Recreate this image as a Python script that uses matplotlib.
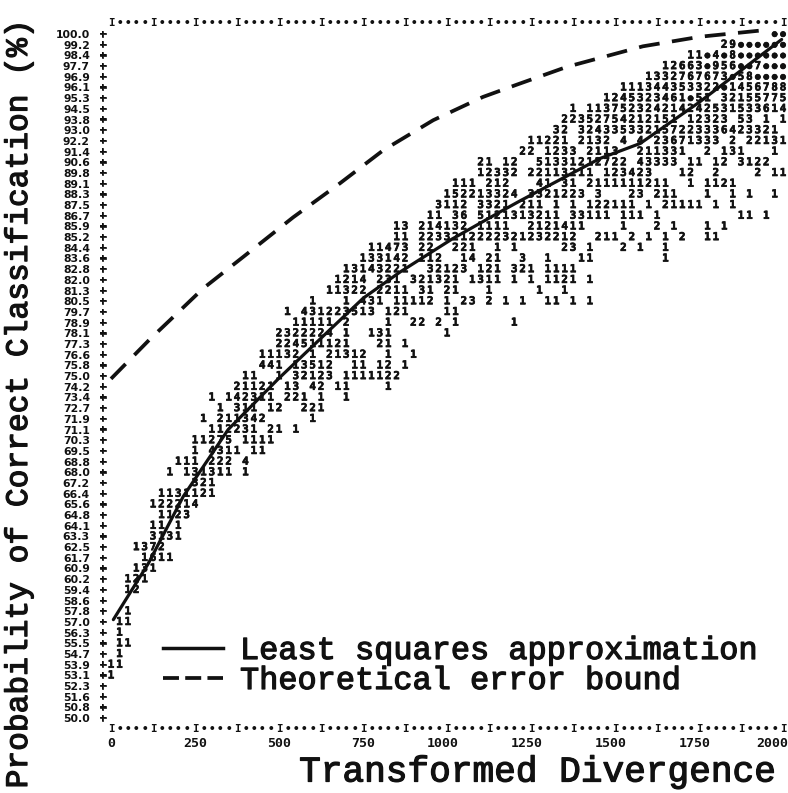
import matplotlib
matplotlib.use("Agg")
import matplotlib.pyplot as plt
import matplotlib.patheffects as pe
from matplotlib.lines import Line2D
from matplotlib.transforms import ScaledTranslation

plt.rcParams['lines.scale_dashes'] = False

# ---------------- data ----------------
Y_TICK_LABELS = ["100.0", "99.2", "98.4", "97.7", "96.9", "96.1", "95.3", "94.5", "93.8",
                 "93.0", "92.2", "91.4", "90.6", "89.8", "89.1", "88.3", "87.5", "86.7",
                 "85.9", "85.2", "84.4", "83.6", "82.8", "82.0", "81.3", "80.5", "79.7",
                 "78.9", "78.1", "77.3", "76.6", "75.8", "75.0", "74.2", "73.4", "72.7",
                 "71.9", "71.1", "70.3", "69.5", "68.8", "68.0", "67.2", "66.4", "65.6",
                 "64.8", "64.1", "63.3", "62.5", "61.7", "60.9", "60.2", "59.4", "58.6",
                 "57.8", "57.0", "56.3", "55.5", "54.7", "53.9", "53.1", "52.3", "51.6",
                 "50.8", "50.0"]
X_TICKS = [0, 250, 500, 750, 1000, 1250, 1500, 1750, 2000]
X_TICK_LABELS = ["0", "250", "500", "750", "1000", "1250", "1500", "1750", "2000"]

BIN_WIDTH = 25  # divergence units per printed column

# printed counts, one entry per probability row (top = 100.0); '*' = saturated cell
ROW_START = [1975, 1825, 1725, 1650, 1600, 1525, 1475, 1375, 1350, 1325, 1250, 1225,
             1100, 1100, 1025, 1000, 975, 950, 850, 850, 775, 750, 700, 675, 650, 600,
             525, 550, 500, 500, 450, 450, 400, 375, 300, 325, 275, 300, 250, 250, 200,
             175, 250, 150, 125, 150, 125, 125, 75, 100, 75, 50, 50, 50, 50, 25, 25, 25,
             25, 0, 0, 0, 0, 0, 0]
ROW_TEXT = [
    "**",
    "29******",
    "11*4*8******",
    "12663*956**7***",
    "1332767673*58****",
    "111344353322*1456788",
    "1245323461*51 32155775",
    "1 113752324214242531533614",
    "22352754212151 12323 53 1 1",
    "32 324335332157223336423321",
    "11221 2132 4 4 23671333 2 22131",
    "22 1233 2113  211331  2 131   1",
    "21 12  51331212722 43333 11 12 3122",
    "12332 22113211 123423   12  2    2 11",
    "111 212   41 31 2111111211  1 1121",
    "152213324 3321223 3   23 211   1  1 1  1",
    "3112 3321 211 1 1 122111 1 21111 1 1",
    "11 36 5121313211 33111 111 1         11 1",
    "13 214132 1111  2121411    1   2 1   1 1",
    "11 2233212222321232212  211 2 1 1 2  11",
    "11473 22  221  1 1     23 1   2 1  1",
    "133142 112  14 21  3  1   11        1",
    "13143221  32123 121 321 1111",
    "1214 231 321321 1311 1 1 1121 1",
    "11322 2211 31 21   1     1  1",
    "1   1 431 11112 1 23 2 1 1  11 1 1",
    "1 431223513 121    11",
    "11111 2    1  22 2 1      1",
    "2322224 1  131      1",
    "224511121   21 1",
    "11132 1 21312  1  1",
    "441 13512  11 12 1",
    "11  1 32123 1111122",
    "21121 13 42 11    1",
    "1 142311 221 1  1",
    "1 311 12  221",
    "1 211342     1",
    "112231 21 1",
    "11275 1111",
    "1 4311 11",
    "111 222 4",
    "1 131311 1",
    "321",
    "1131121",
    "122214",
    "1123",
    "11 1",
    "3131",
    "1372",
    "1611",
    "131",
    "121",
    "12",
    "",
    "1",
    "11",
    "1",
    "11",
    "1",
    "11",
    "1",
    "",
    "",
    "",
    "",
]

LSQ_X = [7, 111, 215, 349, 498, 652, 751, 860, 1014, 1158, 1217, 1455, 1575, 1750, 1996]
LSQ_Y = [57.2, 61.3, 66.2, 71.1, 74.8, 78.4, 80.7, 82.6, 85.0, 87.0, 87.8, 90.9, 92.0, 95.0, 99.6]

BOUND_X = [0, 116, 176, 274, 393, 542, 682, 810, 959, 1107, 1208, 1357, 1583, 1753, 1952]
BOUND_Y = [74.8, 77.7, 79.1, 81.4, 83.7, 86.6, 89.1, 91.5, 93.7, 95.4, 96.3, 97.6, 99.1, 99.8, 100.3]

LEGEND_LABELS = ["Least squares approximation", "Theoretical error bound"]

# ---------------- layout ----------------
W, H = 788, 793
fig = plt.figure(figsize=(W / 100, H / 100), dpi=100, facecolor="white")
L, R, T, B = 92, 788, 0, 733
ax = fig.add_axes([L / W, (H - B) / H, (R - L) / W, (B - T) / H])
ax.patch.set_alpha(0)
for sp in ax.spines.values():
    sp.set_visible(False)

px_x = 672 / 2000.0
x0 = 111
ax.set_xlim((L - x0) / px_x, (R - x0) / px_x)
px_y = 10.69 / (50 / 64)
y100 = 34
ax.set_ylim(100 - (B - y100) / px_y, 100 + (y100 - T) / px_y)

n_rows = len(Y_TICK_LABELS)
step = 50.0 / (n_rows - 1)
ypos = [100 - i * step for i in range(n_rows)]

MONO = "DejaVu Sans Mono"
TYPE = "Liberation Mono"
INK = "#111111"
PFS = 7.8  # printer glyph size
thick = [pe.withStroke(linewidth=0.9, foreground=INK)]
thin = [pe.withStroke(linewidth=0.5, foreground=INK)]

ax.set_yticks(ypos, Y_TICK_LABELS)
ax.set_xticks(X_TICKS, X_TICK_LABELS)
ax.tick_params(axis="both", length=0, colors=INK)
ax.tick_params(axis="y", pad=1.5, labelsize=PFS)
ax.tick_params(axis="x", pad=3, labelsize=9.5)
for lab in ax.get_yticklabels():
    lab.set_fontfamily("DejaVu Sans")
    lab.set_fontweight("bold")
for lab in ax.get_xticklabels():
    lab.set_fontfamily(MONO)
    lab.set_fontweight("bold")
    txt = lab.get_text()
    if len(txt) == 4:
        shift = -11 if txt == X_TICK_LABELS[-1] else -4
        lab.set_transform(lab.get_transform() + ScaledTranslation(shift / 100, 0, fig.dpi_scale_trans))

# border rows and left column of '+'
ncols = int(X_TICKS[-1] / BIN_WIDTH)
for yb in (100 + step, 50 - step):
    for c in range(ncols + 1):
        ch = "I" if c % 5 == 0 else "\u2022"
        ax.text(c * BIN_WIDTH, yb, ch, ha="center", va="center", fontsize=PFS,
                family=MONO, weight="bold", color=INK)
for y in ypos:
    ax.text(-BIN_WIDTH, y, "+", ha="center", va="center", fontsize=PFS,
            family=MONO, weight="bold", color=INK, path_effects=thin)

# printed digits
for i, (start, s) in enumerate(zip(ROW_START, ROW_TEXT)):
    for j, ch in enumerate(s):
        if ch == " ":
            continue
        glyph = "\u25cf" if ch == "*" else ch
        ax.text(start + j * BIN_WIDTH, ypos[i], glyph, ha="center", va="center",
                fontsize=PFS if ch != "*" else 6.5, family=[MONO, "DejaVu Sans"],
                weight="bold", color=INK, path_effects=thin)

# curves
ax.plot(LSQ_X, LSQ_Y, color=INK, lw=2.3, solid_capstyle="round", clip_on=False)
ax.plot(BOUND_X, BOUND_Y, color=INK, lw=2.7, dashes=(15, 9), clip_on=False)

# legend
handles = [Line2D([], [], color=INK, lw=2.5),
           Line2D([], [], color=INK, lw=2.7, dashes=(11.5, 4.5))]
fs = 23
fs_px = fs * 100 / 72
leg = ax.legend(handles, LEGEND_LABELS, loc="center left",
                bbox_to_anchor=(163 / W, 1 - 666 / H), bbox_transform=fig.transFigure,
                frameon=False, borderpad=0, borderaxespad=0,
                handlelength=60 / fs_px, handletextpad=17 / fs_px, labelspacing=0.0,
                prop={"family": TYPE, "size": fs})
for t in leg.get_texts():
    t.set_color(INK)
    t.set_path_effects(thick)

# axis titles
fig.text(19 / W, 1 - 404 / H, "Probability of Correct Classification (%)", rotation=90,
         ha="center", va="center", fontsize=22.5, family=TYPE, color=INK,
         path_effects=thick)
fig.text(537 / W, 1 - 772 / H, "Transformed Divergence", ha="center", va="center",
         fontsize=26, family=TYPE, color=INK, path_effects=thick)

fig.savefig("out.png", dpi=100, facecolor="white")
